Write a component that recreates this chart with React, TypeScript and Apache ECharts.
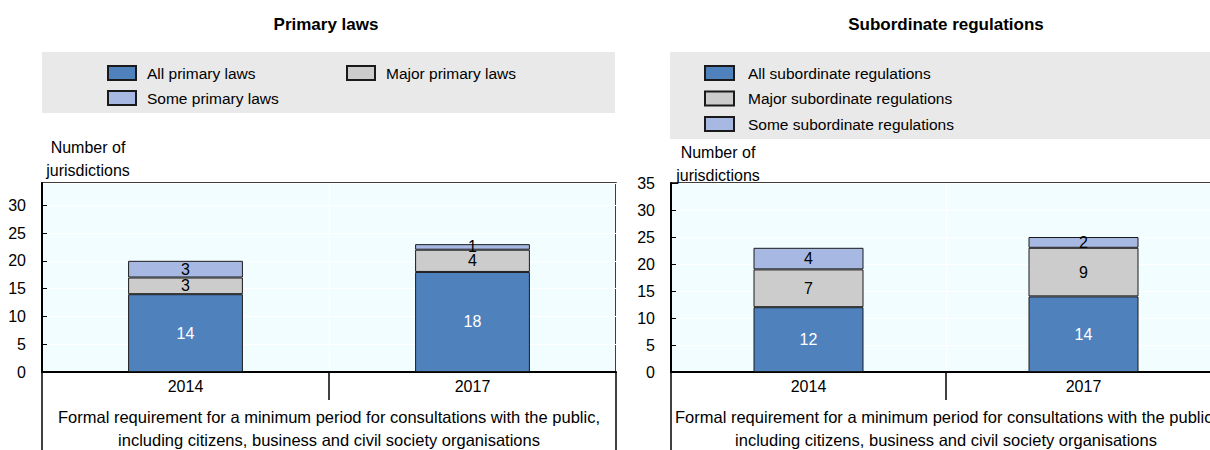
import React, { useEffect, useRef } from "react";
import * as echarts from "echarts";

const years = ["2014", "2017"];
const groupLabel =
  "Formal requirement for a minimum period for consultations with the public,\nincluding citizens, business and civil society organisations";

const leftTitle = "Primary laws";
const rightTitle = "Subordinate regulations";
const yName = "Number of\njurisdictions";

const primaryNames = ["All primary laws", "Major primary laws", "Some primary laws"];
const primaryAll = [14, 18];
const primaryMajor = [3, 4];
const primarySome = [3, 1];

const subNames = ["All subordinate regulations", "Major subordinate regulations", "Some subordinate regulations"];
const subAll = [12, 14];
const subMajor = [7, 9];
const subSome = [4, 2];

const leftMax = 34;
const rightMax = 35;
const tickStep = 5;

const COLORS = ["#4F81BD", "#CCCCCC", "#A7B9E3"];
const LABEL_COLORS = ["#FFFFFF", "#000000", "#000000"];
const FONT = "'Liberation Sans Narrow', 'Arial Narrow', 'Liberation Sans', Arial, sans-serif";
const PLOT_BG = "#F2FDFF";

export default function App() {
  const ref = useRef<HTMLDivElement>(null);

  useEffect(() => {
    if (!ref.current) return;
    const chart = echarts.init(ref.current, undefined, { renderer: "svg" });

    const makeSeries = (names: string[], values: number[][], stack: string, xIdx: number, yIdx: number) =>
      names.map((name, i) => ({
        name,
        type: "bar",
        stack,
        xAxisIndex: xIdx,
        yAxisIndex: yIdx,
        barWidth: "40%",
        data: values[i],
        itemStyle: { color: COLORS[i], borderColor: "#1a1a1a", borderWidth: 1 },
        label: {
          show: true,
          position: "inside",
          color: LABEL_COLORS[i],
          fontFamily: FONT,
          fontSize: 16,
        },
      }));

    const level1 = (gridIndex: number) => ({
      type: "category",
      gridIndex,
      data: years,
      position: "bottom",
      boundaryGap: true,
      axisLine: { show: true, lineStyle: { color: "#000", width: 2 } },
      axisTick: { show: true, inside: false, length: 28, lineStyle: { color: "#000", width: 1.5 } },
      axisLabel: { fontFamily: FONT, fontSize: 16, color: "#000", margin: 6 },
      splitLine: { show: true, lineStyle: { color: "#FFFFFF", width: 1 } },
    });

    const level2 = (gridIndex: number) => ({
      type: "category",
      gridIndex,
      data: [groupLabel],
      position: "bottom",
      offset: 28,
      boundaryGap: true,
      axisLine: { show: false },
      axisTick: { show: true, inside: false, length: 60, lineStyle: { color: "#000", width: 1.5 } },
      axisLabel: { fontFamily: FONT, fontSize: 16.5, color: "#000", margin: 5, lineHeight: 23, interval: 0 },
      splitLine: { show: false },
    });

    const yAxis = (gridIndex: number, max: number, padLeft: number, nameGap: number, showMax: boolean) => ({
      type: "value",
      gridIndex,
      min: 0,
      max,
      interval: tickStep,
      name: yName,
      nameLocation: "end",
      nameGap,
      nameMoveOverlap: false,
      nameTextStyle: {
        fontFamily: FONT,
        fontSize: 16,
        color: "#000",
        lineHeight: 23,
        padding: [0, 0, 0, padLeft],
      },
      axisLine: { show: true, lineStyle: { color: "#000", width: 2 } },
      axisTick: { show: true, inside: true, length: 5, lineStyle: { color: "#000" } },
      axisLabel: {
        fontFamily: FONT,
        fontSize: 16,
        color: "#000",
        margin: 16,
        showMaxLabel: showMax,
        formatter: (v: number) => (v % tickStep === 0 ? String(v) : ""),
      },
      splitLine: { show: true, lineStyle: { color: "#FFFFFF", width: 1 } },
    });

    const legendText = (pad: number) => ({
      fontFamily: FONT,
      fontSize: 15.5,
      color: "#000",
      lineHeight: 18,
      padding: [0, 0, 0, pad],
    });

    const gridBase = {
      top: 183,
      bottom: 78,
      show: true,
      backgroundColor: PLOT_BG,
      borderColor: "#000",
      borderWidth: 1.5,
      containLabel: false,
      outerBoundsMode: "none",
    };

    chart.setOption({
      animation: false,
      textStyle: { fontFamily: FONT },
      title: [
        {
          text: leftTitle,
          left: 321,
          top: 11,
          textAlign: "center",
          textStyle: { fontFamily: "'Liberation Sans', Arial, sans-serif", fontWeight: "bold", fontSize: 17, color: "#000" },
        },
        {
          text: rightTitle,
          left: 941,
          top: 11,
          textAlign: "center",
          textStyle: { fontFamily: "'Liberation Sans', Arial, sans-serif", fontWeight: "bold", fontSize: 17, color: "#000" },
        },
      ],
      graphic: [
        { type: "rect", z: -1, shape: { x: 42, y: 52, width: 573, height: 61 }, style: { fill: "#E9E9E9" } },
        { type: "rect", z: -1, shape: { x: 670, y: 52, width: 540, height: 87 }, style: { fill: "#E9E9E9" } },
      ],
      legend: [
        {
          orient: "vertical",
          left: 107,
          top: 64,
          padding: 0,
          itemWidth: 28,
          itemHeight: 14,
          itemGap: 7,
          icon: "rect",
          data: [primaryNames[0], primaryNames[2]],
          textStyle: legendText(6),
        },
        {
          orient: "vertical",
          left: 346,
          top: 64,
          padding: 0,
          itemWidth: 28,
          itemHeight: 14,
          itemGap: 7,
          icon: "rect",
          data: [primaryNames[1]],
          textStyle: legendText(6),
        },
        {
          orient: "vertical",
          left: 704,
          top: 64,
          padding: 0,
          itemWidth: 29,
          itemHeight: 14,
          itemGap: 7.5,
          icon: "rect",
          data: subNames,
          textStyle: legendText(9),
        },
      ],
      grid: [
        { ...gridBase, left: 42, right: 1210 - 616 },
        { ...gridBase, left: 671, right: 1210 - 1221 },
      ],
      xAxis: [level1(0), level2(0), level1(1), level2(1)],
      yAxis: [yAxis(0, leftMax, 92, 1, false), yAxis(1, rightMax, 94, -4, true)],
      series: [
        ...makeSeries(primaryNames, [primaryAll, primaryMajor, primarySome], "L", 0, 0),
        ...makeSeries(subNames, [subAll, subMajor, subSome], "R", 2, 1),
      ],
    });

    return () => chart.dispose();
  }, []);

  return (
    <div
      ref={ref}
      style={{ position: "absolute", left: 0, top: 0, width: 1210, height: 450, background: "#fff" }}
    />
  );
}
